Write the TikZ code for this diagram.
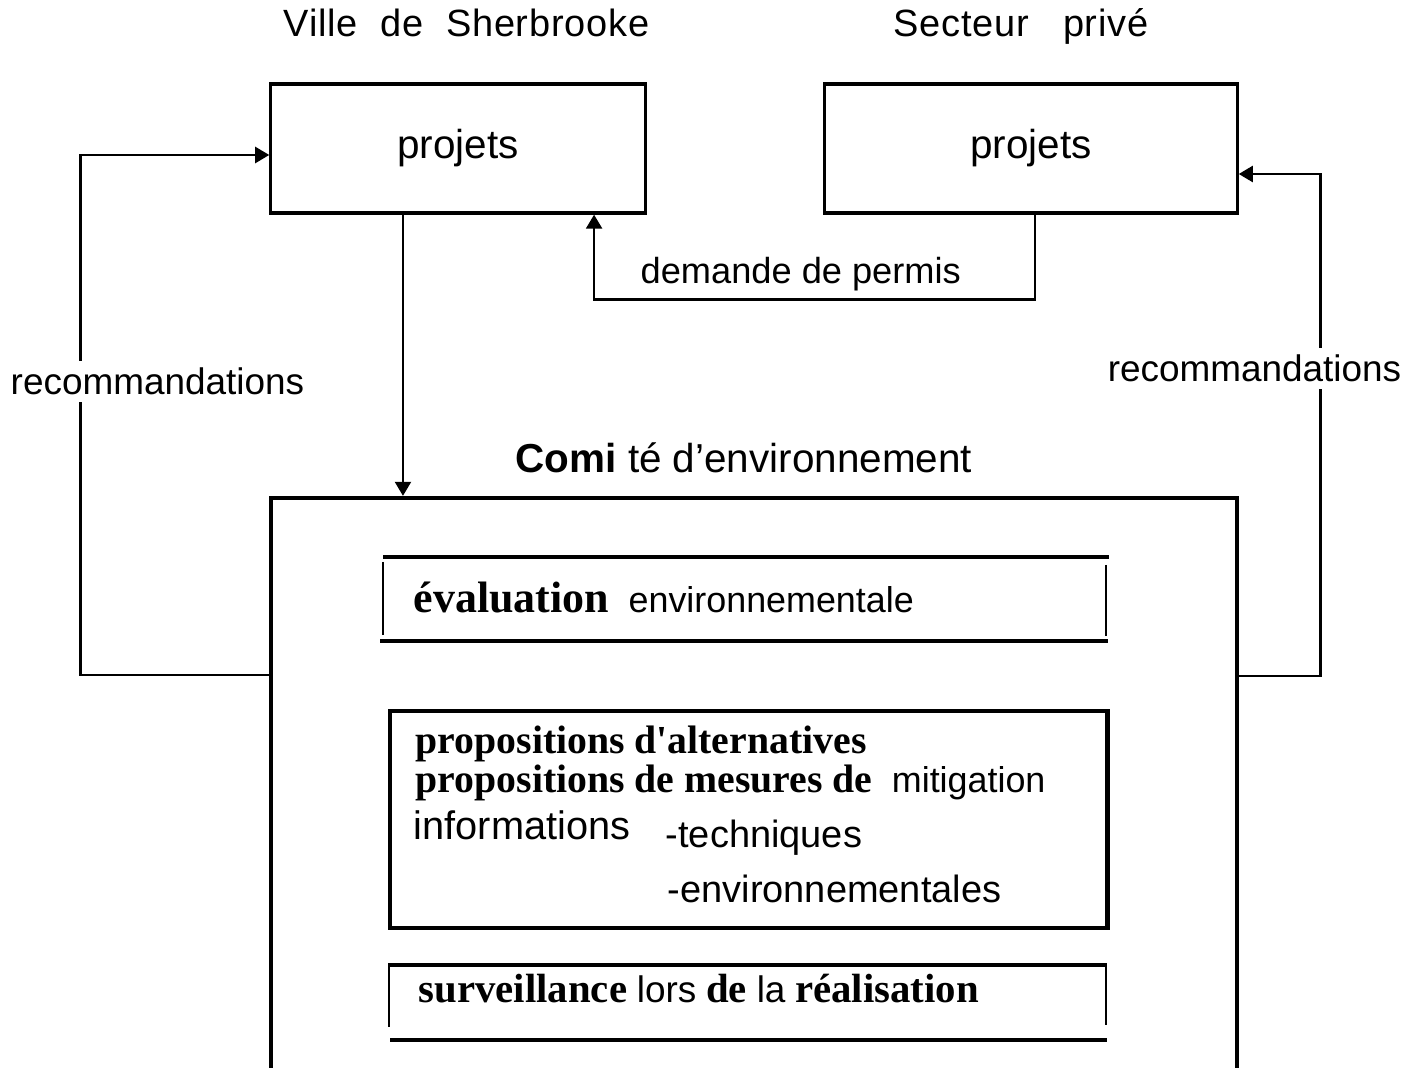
\documentclass[tikz,border=0pt]{standalone}
\usepackage{fontspec}
\setmainfont{Liberation Sans}
\newfontfamily\bsf{Liberation Serif}
\usetikzlibrary{arrows.meta,calc}
\newcommand{\bserif}[1]{{\bsf\bfseries #1}}
\newcommand{\fsz}[1]{\fontsize{#1}{#1}\selectfont}
\begin{document}
\begin{tikzpicture}[x=0.01cm,y=-0.01cm,
  projbox/.style={draw,line width=0.9pt,minimum height=1.29cm,inner sep=0pt,font=\fsz{11.5}},
  arr/.style={line width=0.8pt,-{Triangle[length=4pt,width=4.5pt]}},
  conn/.style={line width=0.8pt},
  inner/.style={line width=1.1pt},
  txt/.style={anchor=base west,inner sep=0pt},
  head/.style={anchor=base west,inner sep=0pt,font=\fsz{10.8}\addfontfeature{LetterSpace=2}},
  wlbl/.style={anchor=base west,inner sep=2pt,fill=white,font=\fsz{10.5}},
]
\useasboundingbox (0,0) rectangle (1416,1068);
\clip (0,0) rectangle (1416,1068);

% headings
\node[head] (hvs) at (283,37) {Ville\ \ de\ \ Sherbrooke};
\node[head] (hsp) at (893,37) {Secteur\ \ \ priv\'e};

% project boxes
\node[projbox,minimum width=3.74cm] (vs) at (458,148.5) {projets};
\node[projbox,minimum width=4.12cm] (sp) at (1031,148.5) {projets};

% comite box (open at the bottom)
\node[draw,line width=1.1pt,minimum width=9.66cm,minimum height=6.10cm,inner sep=0pt] (big) at (754,803) {};
\node[txt,font=\fsz{11.5}] (comite) at (515,473) {\textbf{Comi} t\'e d\textquoteright environnement};

% connectors
\draw[arr] ([xshift=-0.55cm]vs.south) -- ([xshift=-0.55cm]vs.south |- big.north);
\draw[arr] ([xshift=0.04cm]sp.south) -- ++(0,-0.85cm) -| ([xshift=1.36cm]vs.south);
\node[txt,font=\fsz{10.3}] (dem) at (640,284) {demande de permis};

\draw[arr] ([yshift=-1.79cm]big.north west) -- ++(-1.88cm,0) |- ([yshift=-0.065cm]vs.west);
\draw[arr] ([yshift=-1.80cm]big.north east) -- ++(0.81cm,0) |- ([yshift=-0.255cm]sp.east);
\node[wlbl] (recl) at (3,395) {recommandations};
\node[wlbl] (recr) at (1100,382) {recommandations};

% evaluation
\draw[inner] (383,557) -- (1109,557);
\draw[inner] (380,641) -- (1108,641);
\draw[conn] (383,562) -- (383,635);
\draw[conn] (1106,565) -- (1106,636);
\node[txt] (eval) at (413,613) {\bserif{\fsz{12.5}\'evaluation}\ \ {\fsz{10.2}environnementale}};

% propositions
\node[draw,line width=1.3pt,minimum width=7.17cm,minimum height=2.17cm,inner sep=0pt] (prop) at (748.5,819.5) {};
\node[txt] (p1) at (415,754) {\bserif{\fsz{11.3}propositions d'alternatives}};
\node[txt] (p2) at (415,793) {\bserif{\fsz{11.3}propositions de mesures de}\ \ {\fsz{10.2}mitigation}};
\node[txt,font=\fsz{11.3}] (p3) at (413,840) {informations};
\node[txt,font=\fsz{10.8}] (p4) at (665,847) {-techniques};
\node[txt,font=\fsz{10.8}] (p5) at (667,902) {-environnementales};

% surveillance
\draw[inner] (388,965) -- (1107,965);
\draw[inner] (390,1040) -- (1107,1040);
\draw[conn] (389,967) -- (389,1027);
\draw[conn] (1106,965) -- (1106,1025);
\node[txt] (surv) at (418,1002) {\bserif{\fsz{11.6}surveillance}\ {\fsz{10.5}lors}\ \bserif{\fsz{11.6}de}\ {\fsz{10.5}la}\ \bserif{\fsz{11.6}r\'ealisation}};
\end{tikzpicture}
\end{document}
